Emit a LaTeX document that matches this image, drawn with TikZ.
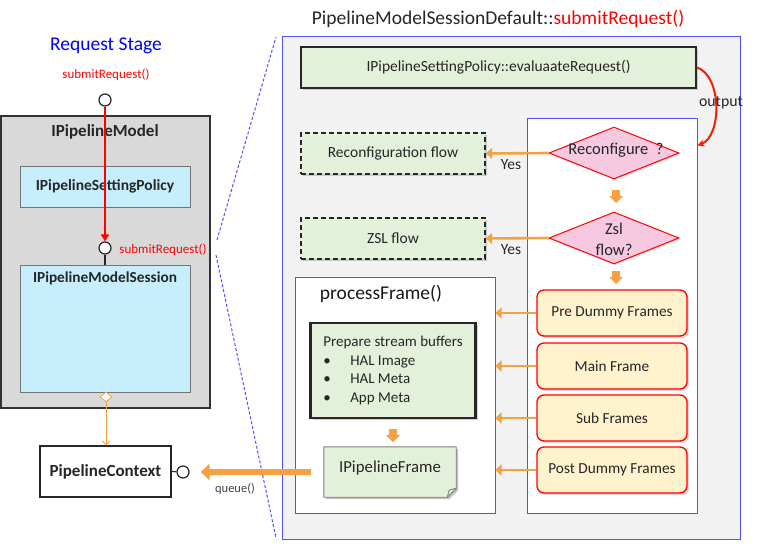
\documentclass[tikz,border=0pt]{standalone}
\usepackage{fontspec}
\setmainfont{Carlito}
\usetikzlibrary{shapes.geometric,shadows,arrows.meta,positioning}

\definecolor{modelgray}{HTML}{D9D9D9}
\definecolor{policycyan}{HTML}{C6EEFD}
\definecolor{stepgreen}{HTML}{E4F1DA}
\definecolor{askpink}{HTML}{F6C9E1}
\definecolor{frameyellow}{HTML}{FFF2CC}
\definecolor{flowarrow}{HTML}{F5A142}
\definecolor{sessionblue}{RGB}{80,80,255}
\definecolor{panelgray}{HTML}{F2F2F2}

\tikzset{
  txt/.style={font=\fontsize{15.5}{18}\selectfont},
  bigtxt/.style={font=\fontsize{19.5}{23}\selectfont},
  smalltxt/.style={font=\fontsize{13}{15}\selectfont},
  classbox/.style={draw=black!55, fill=policycyan, line width=0.8pt, font=\fontsize{15.5}{18}\selectfont\bfseries, text=black!85},
  port/.style={circle, draw=black!85, fill=white, line width=1.2pt, minimum size=12pt, inner sep=0pt},
  stepbox/.style={draw=black!85, fill=stepgreen, line width=2.2pt, txt, text=black!85,
    drop shadow={opacity=0.35, shadow xshift=2pt, shadow yshift=-2pt}},
  flowbox/.style={stepbox, dashed, dash pattern=on 5pt off 3pt},
  askbox/.style={diamond, draw=red, fill=askpink, line width=1pt, minimum width=130pt,
    minimum height=52pt, inner sep=0pt,
    drop shadow={opacity=0.25, shadow xshift=1.5pt, shadow yshift=-1.5pt}},
  asktxt/.style={align=center, font=\fontsize{16.5}{19}\selectfont, text=black!85},
  framebox/.style={rounded corners=7pt, draw=red, fill=frameyellow, line width=1.3pt,
    minimum width=150pt, minimum height=46pt, font=\fontsize{15.3}{18}\selectfont, text=black!85,
    drop shadow={opacity=0.3, shadow xshift=2pt, shadow yshift=-2pt}},
  panel/.style={draw=sessionblue, line width=1pt},
  orangearrow/.style={draw=flowarrow, line width=2.6pt, -{Triangle[length=6pt,width=11pt]}},
  blockdown/.pic={\fill[flowarrow] (-4,0) -- (4,0) -- (4,6) -- (7,6) -- (0,13) -- (-7,6) -- (-4,6) -- cycle;}
}

\begin{document}
\begin{tikzpicture}[x=1pt,y=-1pt]
\useasboundingbox (0,0) rectangle (758,546);

% Request stage
\node[bigtxt, text=blue] (stage) at (106,46) {Request Stage};
\node[smalltxt, text=red] (callin) at (106,75) {submitRequest()};

\node[draw=black!80, fill=modelgray, line width=1.2pt, minimum width=209pt, minimum height=292pt] (model) at (105.5,262) {};
\node[font=\fontsize{17}{20}\selectfont\bfseries, text=black!85] (modellbl) at (105,132) {IPipelineModel};
\node[classbox, minimum width=170pt, minimum height=41pt] (policy) at (105,186.5) {IPipelineSettingPolicy};
\node[classbox, minimum width=170pt, minimum height=127pt] (session) at (105,328.5) {};
\node[font=\fontsize{15.3}{18}\selectfont\bfseries, text=black!85] (sessionlbl) at (105,278) {IPipelineModelSession};

\node[port] (topport) at (105,100) {};
\node[port] (midport) at (105,248) {};
\draw[red, line width=2.4pt, -{Triangle[length=7pt,width=8pt]}] (topport) -- (midport);
\draw[black!85, line width=1.2pt] (midport) -- (session.north);
\node[smalltxt, text=red] (callmid) at (163,250) {submitRequest()};

% context
\node[draw=black!85, fill=white, line width=1.2pt, minimum width=131pt, minimum height=51pt,
  font=\fontsize{17}{20}\selectfont\bfseries, text=black!85] (ctx) at (105.5,471.5) {PipelineContext};
\node[diamond, draw=flowarrow, fill=white, line width=0.8pt, minimum width=12pt, minimum height=10pt, inner sep=0pt] (agg) at (106,397) {};
\draw[flowarrow, line width=0.9pt, -{Straight Barb[length=4pt,width=8pt]}] (agg) -- (agg |- ctx.north);
\node[port] (lolli) at (183,472) {};
\draw[black!85, line width=1.2pt] (ctx.east) -- (lolli);

% zoom lines
\draw[sessionblue, line width=1pt, dash pattern=on 3pt off 2pt] (217,240) -- (276,37);
\draw[sessionblue, line width=1pt, dash pattern=on 3pt off 2pt] (216,255) -- (276,538);

% PipelineModelSessionDefault
\node[bigtxt, text=black!85] (title) at (498,19) {PipelineModelSessionDefault::\textcolor{red}{submitRequest()}};
\node[panel, fill=panelgray, minimum width=458pt, minimum height=503pt] (default) at (511,287.5) {};
\node[stepbox, minimum width=395pt, minimum height=41pt] (evaluate) at (498.5,67.5) {IPipelineSettingPolicy::evaluaateRequest()};
\node[panel, fill=white, minimum width=170pt, minimum height=395pt] (decide) at (612,315.5) {};

\node[askbox] (reconf) at (614,153) {};
\node[asktxt] (reconflbl) at (616,150) {Reconfigure\ \ ?};
\node[askbox] (zsl) at (614,238) {};
\node[asktxt, font=\fontsize{16.5}{21}\selectfont] (zsllbl) at (614,239) {Zsl\\flow?};
\pic at (616,190) {blockdown};
\pic at (616,271) {blockdown};

\node[flowbox, minimum width=184pt, minimum height=41pt] (reconfflow) at (393,153.5) {Reconfiguration flow};
\node[flowbox, minimum width=184pt, minimum height=41pt] (zslflow) at (393,238.5) {ZSL flow};
\draw[orangearrow] (reconf.west) -- (reconfflow.east);
\draw[orangearrow] (zsl.west) -- (zslflow.east);
\node[txt, text=black!85] (yes1) at (511,165) {Yes};
\node[txt, text=black!85] (yes2) at (511,250) {Yes};

\draw[line width=2pt, red!80!orange, -{Stealth[length=7pt,width=7pt]}]
  (evaluate.east) .. controls (722,76) and (722,136) .. ([yshift=-28pt]decide.north east);
\node[font=\fontsize{15.8}{18}\selectfont, text=black!85] (outlbl) at (721,103) {output};

% processFrame
\node[panel, fill=white, minimum width=200pt, minimum height=236pt] (proc) at (395,395) {};
\node[bigtxt, text=black!90] (proclbl) at (381,294) {processFrame()};
\node[stepbox, minimum width=165pt, minimum height=95pt, align=left,
  font=\fontsize{15}{18.5}\selectfont] (prepare) at (393,370.5)
  {Prepare stream buffers\\
   \textbullet\hspace{1.3em}HAL Image\\
   \textbullet\hspace{1.3em}HAL Meta\\
   \textbullet\hspace{1.3em}App Meta};
\pic at (393,429) {blockdown};
\node[minimum width=132pt, minimum height=50pt] (frame) at (390,472) {};
\fill[black, opacity=0.25] ([shift={(2pt,-2pt)}]frame.north west) -- ([shift={(2pt,-2pt)}]frame.north east)
  -- ([shift={(2pt,7pt)}]frame.south east) -- ([shift={(-7pt,-2pt)}]frame.south east)
  -- ([shift={(2pt,-2pt)}]frame.south west) -- cycle;
\draw[black!50, fill=stepgreen, line width=0.9pt] (frame.north west) -- (frame.north east)
  -- ([yshift=9pt]frame.south east) -- ([xshift=-9pt]frame.south east) -- (frame.south west) -- cycle;
\draw[black!50, line width=0.9pt] ([yshift=9pt]frame.south east) -- ([shift={(-7pt,7pt)}]frame.south east)
  -- ([xshift=-9pt]frame.south east);
\node[font=\fontsize{16.8}{20}\selectfont, text=black!85] (framelbl) at (390,468) {IPipelineFrame};

% frames
\node[framebox] (pre) at (612,313) {Pre Dummy Frames};
\node[framebox] (main) at (612,366) {Main Frame};
\node[framebox] (sub) at (612,418) {Sub Frames};
\node[framebox] (post) at (612,470) {Post Dummy Frames};
\foreach \f in {pre,main,sub,post}
  \draw[orangearrow] (\f.west) -- (\f.west -| proc.east);

% queue
\coordinate (queuestart) at ([xshift=-13pt]frame.west);
\draw[flowarrow, line width=6pt, -{Triangle[length=9pt,width=16pt]}] (queuestart) -- ([xshift=11pt]lolli.east);
\node[font=\fontsize{12.5}{15}\selectfont, text=black!75] (queuelbl) at (235,489) {queue()};
\end{tikzpicture}
\end{document}
